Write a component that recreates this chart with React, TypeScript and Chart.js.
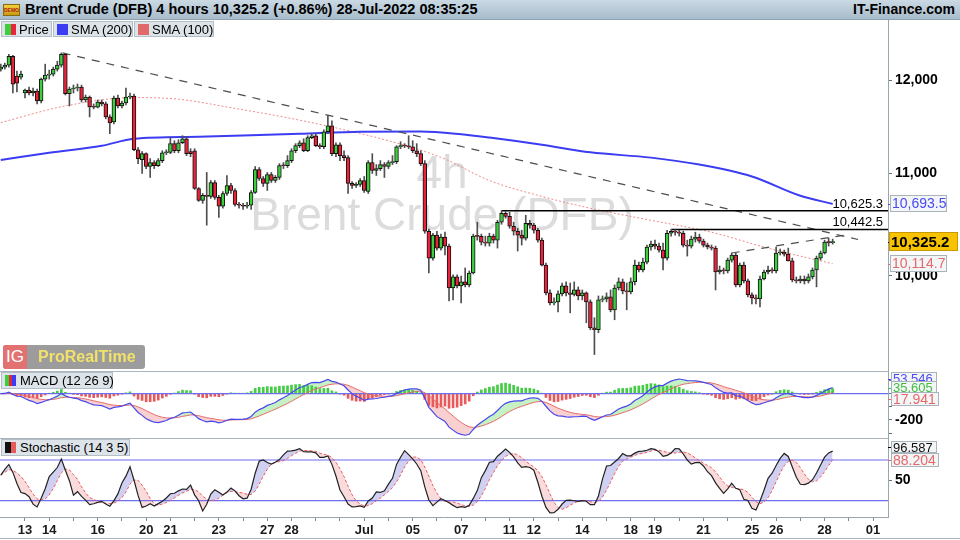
import React, { useEffect, useRef } from "react";
import { Chart, registerables } from "chart.js";

Chart.register(...registerables);

const FONT = '"Liberation Sans", Arial, Helvetica, sans-serif';

// ---------------- data ----------------
const FIRST_INDEX = -6; // candle index of the first candle (Fri 10 Jun); index 0 = Mon 13 Jun 00:00
const CANDLES_PER_DAY = 6;

const opens = [
  12122, 12145, 12167, 12268, 12044, 12033, 11856, 11889, 11856, 11878,
  11768, 12010, 12055, 12066, 12122, 12167, 12291, 11848, 11900, 11911,
  11922, 11779, 11812, 11703, 11700, 11757, 11736, 11595, 11541, 11801,
  11714, 11746, 11812, 11823, 11246, 11143, 11205, 11072, 11113, 11082,
  11133, 11215, 11218, 11310, 11236, 11320, 11362, 11226, 11236, 10848,
  10729, 10778, 10768, 10909, 10759, 10670, 10798, 10878, 10828, 10689,
  10680, 10670, 10680, 10808, 11041, 10949, 10899, 10990, 10929, 10960,
  11082, 11080, 11133, 11236, 11289, 11320, 11236, 11373, 11394, 11289,
  11278, 11436, 11499, 11205, 11299, 11185, 11164, 10899, 10878, 10889,
  10929, 10818, 11113, 11031, 11051, 11092, 11072, 11113, 11123, 11278,
  11289, 11285, 11278, 11236, 11205, 11102, 10425, 10168, 10387, 10263,
  10368, 10282, 9889, 9991, 9908, 9945, 9917, 10028, 10378, 10375,
  10320, 10311, 10378, 10339, 10513, 10601, 10571, 10474, 10425, 10387,
  10358, 10503, 10484, 10435, 10339, 10102, 9844, 9753, 9762, 9835,
  9908, 9844, 9830, 9871, 9816, 9844, 9762, 9529, 9512, 9780,
  9789, 9807, 9690, 9889, 9945, 9862, 9853, 9945, 10102, 10056,
  10130, 10273, 10301, 10282, 10244, 10168, 10406, 10425, 10416, 10406,
  10292, 10282, 10349, 10368, 10330, 10292, 10273, 10263, 10037, 10056,
  10047, 10149, 10197, 9917, 10102, 9954, 9826, 9798, 9789, 9972,
  10037, 10056, 10047, 10216, 10225, 10206, 10142, 9963, 9954, 9972,
  9954, 9991, 10056, 10168, 10216, 10320, 10315,
];

const highs = [
  12178, 12190, 12291, 12280, 12100, 12100, 11900, 11922, 11911, 11900,
  12021, 12178, 12111, 12145, 12212, 12306, 12302, 11922, 11944, 11955,
  11944, 11834, 11823, 11736, 11779, 11779, 11757, 11617, 11823, 11834,
  11768, 11911, 11856, 11845, 11268, 11226, 11215, 11154, 11133, 11154,
  11236, 11246, 11373, 11341, 11352, 11394, 11383, 11257, 11257, 10858,
  10798, 11011, 10929, 10929, 10778, 10818, 10980, 10899, 10848, 10709,
  10699, 10709, 10828, 11072, 11062, 10970, 11011, 11011, 10980, 11102,
  11113, 11185, 11257, 11310, 11341, 11362, 11394, 11415, 11415, 11310,
  11457, 11606, 11552, 11320, 11320, 11236, 11185, 10919, 10909, 10949,
  10970, 11133, 11205, 11092, 11133, 11113, 11133, 11185, 11289, 11331,
  11310, 11394, 11341, 11310, 11236, 11133, 10445, 10406, 10425, 10397,
  10416, 10301, 10010, 10010, 10000, 10075, 10047, 10397, 10513, 10397,
  10378, 10406, 10397, 10532, 10625.3, 10620, 10610, 10513, 10454, 10435,
  10581, 10532, 10503, 10454, 10358, 10121, 9871, 9798, 9862, 9935,
  9945, 9935, 9945, 9899, 9871, 9853, 9780, 9619, 9816, 9816,
  9844, 9871, 9917, 9982, 9972, 9935, 9982, 10149, 10130, 10168,
  10292, 10330, 10339, 10311, 10311, 10435, 10442.5, 10440, 10435, 10425,
  10339, 10378, 10416, 10397, 10349, 10311, 10292, 10282, 10093, 10075,
  10168, 10216, 10216, 10121, 10130, 9972, 9844, 9826, 10000, 10056,
  10093, 10075, 10273, 10254, 10244, 10263, 10168, 9991, 10000, 10000,
  10019, 10075, 10187, 10235, 10339, 10358, 10349,
];

const lows = [
  12100, 12122, 12145, 11856, 11867, 12010, 11801, 11834, 11823, 11736,
  11746, 11988, 12010, 12044, 12100, 12145, 11834, 11714, 11856, 11878,
  11757, 11757, 11595, 11682, 11692, 11714, 11574, 11415, 11520, 11692,
  11692, 11725, 11790, 11236, 11102, 11000, 11051, 10960, 11051, 11072,
  11113, 11195, 11205, 11215, 11215, 11310, 11185, 11174, 10838, 10719,
  10699, 10484, 10749, 10739, 10561, 10650, 10778, 10798, 10670, 10650,
  10640, 10650, 10640, 10798, 10929, 10868, 10828, 10909, 10909, 10939,
  11051, 11062, 11113, 11215, 11268, 11226, 11226, 11362, 11278, 11257,
  11257, 11415, 11185, 11174, 11133, 11133, 10798, 10848, 10858, 10868,
  10808, 10798, 11000, 10980, 11031, 10960, 11051, 11092, 11102, 11257,
  11268, 11257, 11215, 11174, 11082, 10406, 10028, 10149, 10244, 10244,
  10197, 9771, 9780, 9889, 9753, 9899, 9899, 10019, 10339, 10292,
  10282, 10282, 10311, 10263, 10493, 10552, 10454, 10387, 10235, 10292,
  10339, 10454, 10406, 10320, 10093, 9826, 9735, 9735, 9672, 9816,
  9816, 9663, 9816, 9780, 9780, 9574, 9512, 9295, 9486, 9762,
  9762, 9672, 9601, 9871, 9835, 9690, 9835, 9917, 10037, 10037,
  10112, 10244, 10254, 10225, 10056, 10149, 10378, 10387, 10378, 10273,
  10187, 10263, 10320, 10311, 10273, 10254, 10244, 9871, 10019, 10019,
  10028, 10130, 9899, 9899, 9935, 9807, 9744, 9744, 9717, 9963,
  10019, 10028, 10028, 10197, 10187, 10140, 9945, 9935, 9935, 9926,
  9935, 9972, 9899, 10149, 10206, 10282, 10301,
];

const closes = [
  12145, 12167, 12268, 11955, 11966, 12066, 11889, 11856, 11878, 11768,
  12010, 12055, 12066, 12122, 12167, 12291, 11848, 11900, 11911, 11922,
  11779, 11812, 11703, 11700, 11757, 11736, 11595, 11531, 11801, 11714,
  11746, 11812, 11823, 11246, 11154, 11205, 11072, 11113, 11082, 11133,
  11215, 11218, 11310, 11236, 11320, 11362, 11205, 11205, 10848, 10729,
  10778, 10768, 10909, 10759, 10670, 10798, 10878, 10828, 10689, 10680,
  10670, 10680, 10808, 11041, 10949, 10899, 10990, 10929, 10960, 11082,
  11080, 11133, 11236, 11289, 11320, 11236, 11373, 11394, 11289, 11278,
  11436, 11499, 11205, 11299, 11185, 11164, 10899, 10878, 10889, 10929,
  10828, 11113, 11031, 11051, 11092, 11072, 11113, 11123, 11278, 11289,
  11285, 11278, 11236, 11205, 11102, 10425, 10168, 10387, 10263, 10368,
  10282, 9889, 9991, 9908, 9945, 9917, 10028, 10378, 10375, 10320,
  10311, 10378, 10339, 10513, 10601, 10571, 10474, 10425, 10387, 10358,
  10503, 10484, 10435, 10339, 10102, 9844, 9753, 9762, 9835, 9908,
  9844, 9830, 9871, 9816, 9844, 9762, 9529, 9512, 9780, 9789,
  9807, 9690, 9889, 9945, 9862, 9853, 9945, 10102, 10056, 10130,
  10273, 10301, 10282, 10244, 10168, 10406, 10425, 10416, 10406, 10292,
  10282, 10349, 10368, 10330, 10292, 10273, 10263, 10037, 10056, 10047,
  10149, 10197, 9917, 10102, 9954, 9826, 9798, 9789, 9972, 10037,
  10056, 10047, 10216, 10225, 10206, 10142, 9963, 9954, 9972, 9954,
  9991, 10056, 10168, 10216, 10320, 10315, 10325.2,
];

// moving averages (candle index, value)
const sma200Index = [-6, 6, 19, 27, 43, 56, 68, 83, 98, 108, 115, 128, 140, 155, 167, 180, 192, 200];
const sma200Values = [11140, 11215, 11288, 11362, 11383, 11398, 11414, 11436, 11439, 11410, 11375, 11299, 11219, 11164, 11092, 10970, 10775, 10693.5];
const sma100Index = [-6, 10, 27, 38, 51, 68, 90, 103, 115, 128, 140, 155, 170, 184, 200];
const sma100Values = [11534, 11714, 11805, 11788, 11695, 11560, 11341, 11167, 10929, 10768, 10650, 10532, 10415, 10262, 10114.7];

// drawn trend lines
const downTrendIndex = [9.3, 206.3];
const downTrendValues = [12306, 10345];
const riseTrendIndex = [175, 203];
const riseTrendValues = [10216, 10388];
const levelValues = [10625.3, 10442.5];
const levelStartIndex = [118, 160];

// axes
const dayNumbers = [0, 1, 2, 3, 4, 5, 6, 7, 8, 9, 10, 11, 12, 13, 14, 15, 16, 17, 18, 19, 20, 21, 22, 23, 24, 25, 26, 27, 28, 29, 30, 31, 32, 33, 34, 35];
const dayLabels = ["13", "14", "", "16", "", "20", "21", "", "23", "", "27", "28", "", "", "Jul", "", "05", "", "07", "", "11", "12", "", "14", "", "18", "19", "", "21", "", "25", "26", "", "28", "", "01"];
const priceTicks = [10000, 11000, 12000];
const macdTicks = [-300, -200, -100, 0, 100];
const macdLabelled = [-200];
const stochTicks = [50];
const stochBands = [80, 20];

// last values shown in the axis boxes
const lastPrice = 10325.2;
const sma200Last = 10693.5;
const sma100Last = 10114.7;
const macdLast = 53.546;
const histLast = 35.605;
const signalLast = 17.941;
const stochKLast = 96.587;
const stochDLast = 88.204;

const headerText = "Brent Crude (DFB) 4 hours 10,325.2 (+0.86%) 28-Jul-2022 08:35:25";

// ---------------- layout constants ----------------
const X_MIN = -6.19;
const X_MAX = 213.7;
const AXIS_W = 72;
const GREEN = "#3dcd3d";
const RED = "#e8233a";
const BORDER = "#9aa6ae";

const fmt = (v: number, d: number) =>
  v.toLocaleString("en-US", { minimumFractionDigits: d, maximumFractionDigits: d });

const pts = (xs: number[], ys: number[]) => xs.map((x, k) => ({ x, y: ys[k] }));

function ema(src: number[], n: number) {
  const k = 2 / (n + 1);
  const out: number[] = [];
  let e = src[0];
  for (const v of src) {
    e = e + k * (v - e);
    out.push(e);
  }
  return out;
}
function smaOf(a: number[], n: number) {
  return a.map((_, k) => {
    const s = Math.max(0, k - n + 1);
    const w = a.slice(s, k + 1);
    return w.reduce((p, q) => p + q, 0) / w.length;
  });
}

const candleIndex = closes.map((_, k) => FIRST_INDEX + k);

function xAxis(display: boolean): any {
  return {
    type: "linear",
    min: X_MIN,
    max: X_MAX,
    bounds: "data",
    offset: false,
    display,
    afterBuildTicks: (s: any) => {
      s.ticks = dayNumbers.map((d) => ({ value: d * CANDLES_PER_DAY }));
    },
    afterFit: (s: any) => {
      s.height = display ? 23 : 0;
      s.paddingLeft = 0;
      s.paddingRight = 0;
    },
    ticks: {
      autoSkip: false,
      maxRotation: 0,
      padding: 2,
      color: "#1a1a1a",
      font: { family: FONT, size: 13, weight: "bold" },
      callback: (v: number) => {
        const d = Math.round(v / CANDLES_PER_DAY);
        const k = dayNumbers.indexOf(d);
        return k >= 0 ? dayLabels[k] : "";
      },
    },
    grid: { drawOnChartArea: false, drawTicks: true, tickLength: 4, color: "#7d8990", offset: false },
    border: { display: true, color: BORDER },
  };
}

function yAxis(type: string, min: number, max: number, ticks: number[], label: (v: number) => string): any {
  return {
    type,
    position: "right",
    min,
    max,
    bounds: "data",
    afterFit: (s: any) => {
      s.width = AXIS_W;
      s.paddingTop = 0;
      s.paddingBottom = 0;
    },
    afterBuildTicks: (s: any) => {
      s.ticks = ticks.map((v) => ({ value: v }));
    },
    ticks: {
      autoSkip: false,
      color: "#000",
      padding: 3,
      font: { family: FONT, size: 14, weight: "bold" },
      callback: (v: number) => label(v),
    },
    grid: { drawOnChartArea: false, drawTicks: true, tickLength: 4, color: "#66727a" },
    border: { display: true, color: BORDER },
  };
}

function baseOptions(scales: any): any {
  return {
    animation: false,
    responsive: true,
    maintainAspectRatio: false,
    events: [],
    layout: { padding: 0, autoPadding: false },
    plugins: {
      legend: { display: false },
      tooltip: { enabled: false },
      filler: { propagate: false, drawTime: "beforeDatasetsDraw" },
    },
    scales,
  };
}

function valueBox(ctx: any, x: number, yc: number, w: number, h: number, bg: string, border: string, text: string, color: string, font: string) {
  const top = Math.round(yc - h / 2);
  ctx.fillStyle = bg;
  ctx.fillRect(x, top, w, h);
  ctx.strokeStyle = border;
  ctx.lineWidth = 1;
  ctx.strokeRect(x + 0.5, top + 0.5, w - 1, h - 1);
  ctx.fillStyle = color;
  ctx.font = font;
  ctx.textAlign = "left";
  ctx.textBaseline = "middle";
  ctx.fillText(text, x + 2, top + h / 2 + 1);
}

function buildMain(canvas: HTMLCanvasElement) {
  const wick = candleIndex.map((x, k) => ({ x, y: [lows[k], highs[k]] }));
  const body = candleIndex.map((x, k) => ({ x, y: [opens[k], closes[k]] }));
  const bodyColor = closes.map((c, k) => (c >= opens[k] ? GREEN : RED));

  const decor = {
    id: "mainDecor",
    beforeDatasetsDraw(chart: any) {
      const ctx = chart.ctx;
      ctx.save();
      ctx.fillStyle = "#dcdcdc";
      ctx.textAlign = "center";
      ctx.textBaseline = "alphabetic";
      ctx.font = `46px ${FONT}`;
      ctx.fillText("4h", 442, 168);
      ctx.fillText("Brent Crude (DFB)", 442, 210);
      ctx.restore();
    },
    afterDraw(chart: any) {
      const ctx = chart.ctx;
      const y = chart.scales.y;
      ctx.save();
      ctx.fillStyle = "#000";
      ctx.font = `13px ${FONT}`;
      ctx.textAlign = "right";
      ctx.textBaseline = "alphabetic";
      levelValues.forEach((v) => {
        ctx.fillText(fmt(v, 1), 883, y.getPixelForValue(v) - 3);
      });
      const ax = chart.chartArea.right;
      const y200 = y.getPixelForValue(sma200Last);
      ctx.fillStyle = "#4a4af5";
      ctx.fillRect(ax, Math.round(y200), 3, 1);
      valueBox(ctx, ax + 2, y200, 57, 17, "#f3f5f7", "#a9b3ba", fmt(sma200Last, 1), "#4a4af5", `14px ${FONT}`);
      const yp = y.getPixelForValue(lastPrice);
      ctx.fillStyle = "#000";
      ctx.fillRect(ax, Math.round(yp), 3, 1);
      valueBox(ctx, ax + 1, yp, 69, 19, "#f7c300", "#c99a00", fmt(lastPrice, 1), "#000", `bold 15px ${FONT}`);
      const y100 = y.getPixelForValue(sma100Last);
      ctx.fillStyle = "#e46a6a";
      ctx.fillRect(ax, Math.round(y100), 3, 1);
      valueBox(ctx, ax + 2, y100, 57, 17, "#f3f5f7", "#a9b3ba", fmt(sma100Last, 1), "#e46a6a", `14px ${FONT}`);
      ctx.restore();
    },
  };

  const datasets: any[] = [
    {
      type: "line",
      data: pts(sma100Index, sma100Values),
      borderColor: "#f08a8a",
      borderWidth: 1,
      borderDash: [2, 2],
      pointRadius: 0,
      cubicInterpolationMode: "monotone",
      order: 7,
    },
    {
      type: "line",
      data: pts(sma200Index, sma200Values),
      borderColor: "#3c3cf2",
      borderWidth: 2,
      pointRadius: 0,
      cubicInterpolationMode: "monotone",
      order: 6,
    },
    {
      type: "line",
      data: pts(downTrendIndex, downTrendValues),
      borderColor: "#4d4d4d",
      borderWidth: 1.2,
      borderDash: [8, 7],
      pointRadius: 0,
      order: 5,
    },
    {
      type: "line",
      data: pts(riseTrendIndex, riseTrendValues),
      borderColor: "#4d4d4d",
      borderWidth: 1.2,
      borderDash: [8, 7],
      pointRadius: 0,
      order: 5,
    },
    ...levelValues.map((v, k) => ({
      type: "line",
      data: [
        { x: levelStartIndex[k], y: v },
        { x: X_MAX, y: v },
      ],
      borderColor: "#000",
      borderWidth: 1.6,
      pointRadius: 0,
      order: 4,
    })),
    {
      type: "bar",
      data: wick,
      backgroundColor: "#4f4f4f",
      barThickness: 1,
      grouped: false,
      order: 2,
    },
    {
      type: "bar",
      data: body,
      backgroundColor: bodyColor,
      borderColor: "#111",
      borderWidth: 1,
      borderSkipped: false,
      barThickness: 3.8,
      minBarLength: 1,
      grouped: false,
      order: 1,
    },
  ];

  return new Chart(canvas, {
    type: "bar",
    data: { datasets },
    options: baseOptions({
      x: xAxis(false),
      y: yAxis("logarithmic", 9154, 12689, priceTicks, (v) => fmt(v, 0)),
    }),
    plugins: [decor],
  } as any);
}

function buildMacd(canvas: HTMLCanvasElement) {
  const e12 = ema(closes, 12);
  const e26 = ema(closes, 26);
  const macd = e12.map((v, k) => v - e26[k]);
  const signal = ema(macd, 9);
  const hist = macd.map((v, k) => v - signal[k]);

  const decor = {
    id: "macdDecor",
    afterDraw(chart: any) {
      const ctx = chart.ctx;
      const y = chart.scales.y;
      const ax = chart.chartArea.right;
      ctx.save();
      const yb = y.getPixelForValue(macdLast) - 8;
      const yg = y.getPixelForValue(histLast) - 1.5;
      const yr = y.getPixelForValue(signalLast) + 8;
      ctx.fillStyle = "#4a4af5";
      ctx.fillRect(ax, Math.round(yb), 3, 1);
      valueBox(ctx, ax + 3, yb, 46, 13, "#f3f5f7", "#a9b3ba", fmt(macdLast, 3).replace(/,/g, ""), "#4a4af5", `13px ${FONT}`);
      ctx.fillStyle = "#3fbf3f";
      ctx.fillRect(ax, Math.round(yg), 3, 1);
      valueBox(ctx, ax + 3, yg, 46, 13, "#f3f5f7", "#a9b3ba", fmt(histLast, 3), "#3fbf3f", `13px ${FONT}`);
      ctx.fillStyle = "#e46a6a";
      ctx.fillRect(ax, Math.round(yr), 3, 1);
      valueBox(ctx, ax + 3, yr, 48, 14, "#f3f5f7", "#a9b3ba", fmt(signalLast, 3), "#e46a6a", `14px ${FONT}`);
      ctx.restore();
    },
  };

  const datasets: any[] = [
    {
      type: "bar",
      data: candleIndex.map((x, k) => ({ x, y: hist[k] })),
      backgroundColor: hist.map((h) => (h >= 0 ? "#45cc45" : "#e85a5a")),
      barThickness: 2,
      grouped: false,
      order: 3,
    },
    {
      type: "line",
      data: candleIndex.map((x, k) => ({ x, y: macd[k] })),
      borderColor: "#4848ee",
      borderWidth: 1.2,
      pointRadius: 0,
      fill: { target: 2, above: "rgba(150,230,150,0.55)", below: "rgba(242,150,150,0.45)" },
      order: 1,
    },
    {
      type: "line",
      data: candleIndex.map((x, k) => ({ x, y: signal[k] })),
      borderColor: "#e66a6a",
      borderWidth: 1,
      pointRadius: 0,
      order: 1,
    },
    {
      type: "line",
      data: [
        { x: X_MIN, y: 0 },
        { x: X_MAX, y: 0 },
      ],
      borderColor: "#6e6ef0",
      borderWidth: 1.2,
      pointRadius: 0,
      order: 2,
    },
  ];

  return new Chart(canvas, {
    type: "bar",
    data: { datasets },
    options: baseOptions({
      x: xAxis(false),
      y: yAxis("linear", -337, 172.6, macdTicks, (v) => (macdLabelled.includes(v) ? String(v) : "")),
    }),
    plugins: [decor],
  } as any);
}

function buildStoch(canvas: HTMLCanvasElement) {
  const raw = closes.map((c, k) => {
    const s = Math.max(0, k - 13);
    const hh = Math.max(...highs.slice(s, k + 1));
    const ll = Math.min(...lows.slice(s, k + 1));
    return hh > ll ? (100 * (c - ll)) / (hh - ll) : 50;
  });
  const kLine = smaOf(raw, 3);
  const dLine = smaOf(kLine, 5);

  const decor = {
    id: "stochDecor",
    afterDraw(chart: any) {
      const ctx = chart.ctx;
      const y = chart.scales.y;
      const ax = chart.chartArea.right;
      ctx.save();
      const yk = y.getPixelForValue(stochKLast) - 1.5;
      const yd = y.getPixelForValue(stochDLast) + 5.5;
      ctx.fillStyle = "#000";
      ctx.fillRect(ax, Math.round(yk), 3, 1);
      valueBox(ctx, ax + 3, yk, 46, 12, "#f3f5f7", "#a9b3ba", fmt(stochKLast, 3), "#111", `13px ${FONT}`);
      ctx.fillStyle = "#e46a6a";
      ctx.fillRect(ax, Math.round(yd), 3, 1);
      valueBox(ctx, ax + 3, yd, 48, 14, "#f3f5f7", "#a9b3ba", fmt(stochDLast, 3), "#e46a6a", `14px ${FONT}`);
      ctx.restore();
    },
  };

  const datasets: any[] = [
    {
      type: "line",
      data: candleIndex.map((x, k) => ({ x, y: kLine[k] })),
      borderColor: "#222",
      borderWidth: 1.2,
      pointRadius: 0,
      fill: { target: 1, above: "rgba(170,172,232,0.55)", below: "rgba(244,175,175,0.45)" },
      order: 1,
    },
    {
      type: "line",
      data: candleIndex.map((x, k) => ({ x, y: dLine[k] })),
      borderColor: "#ee5a5a",
      borderWidth: 1,
      borderDash: [3, 2],
      pointRadius: 0,
      order: 1,
    },
    ...stochBands.map((b) => ({
      type: "line",
      data: [
        { x: X_MIN, y: b },
        { x: X_MAX, y: b },
      ],
      borderColor: "#6e6ef0",
      borderWidth: 1.2,
      pointRadius: 0,
      order: 2,
    })),
  ];

  return new Chart(canvas, {
    type: "line",
    data: { datasets },
    options: baseOptions({
      x: xAxis(true),
      y: yAxis("linear", -4, 112.4, stochTicks, (v) => String(v)),
    }),
    plugins: [decor],
  } as any);
}

const legendBox: React.CSSProperties = {
  position: "absolute",
  height: 16,
  top: 0,
  background: "#dde4e9",
  border: "1px solid #b3bec6",
  boxSizing: "border-box",
  fontFamily: FONT,
  fontSize: 13,
  color: "#000",
  lineHeight: "15px",
  whiteSpace: "nowrap",
};

function Icon({ colors }: { colors: string[] }) {
  return (
    <span style={{ position: "absolute", left: 3, top: 2, width: 11, height: 11, display: "flex" }}>
      {colors.map((c, i) => (
        <span key={i} style={{ flex: 1, background: c }} />
      ))}
    </span>
  );
}

export default function App() {
  const mainRef = useRef<HTMLCanvasElement | null>(null);
  const macdRef = useRef<HTMLCanvasElement | null>(null);
  const stochRef = useRef<HTMLCanvasElement | null>(null);

  useEffect(() => {
    const charts = [
      buildMain(mainRef.current as HTMLCanvasElement),
      buildMacd(macdRef.current as HTMLCanvasElement),
      buildStoch(stochRef.current as HTMLCanvasElement),
    ];
    return () => charts.forEach((c) => c.destroy());
  }, []);

  return (
    <div style={{ position: "relative", width: 960, height: 540, overflow: "hidden", background: "#fff", fontFamily: FONT }}>
      <style>{"body{margin:0}"}</style>
      <div
        style={{
          position: "absolute",
          left: 0,
          top: 0,
          width: 960,
          height: 20,
          background: "linear-gradient(#cad9e4, #a8bccb)",
          borderBottom: "1px solid #8ea2b1",
          boxSizing: "border-box",
        }}
      >
        <div
          style={{
            position: "absolute",
            left: 3,
            top: 4,
            width: 17,
            height: 12,
            background: "linear-gradient(#f2d23a, #c99a12)",
            border: "1px solid #8a6a10",
            boxSizing: "border-box",
            fontSize: 5,
            fontWeight: "bold",
            color: "#b0221a",
            lineHeight: "10px",
            textAlign: "center",
            overflow: "hidden",
          }}
        >
          DEMO
        </div>
        <span style={{ position: "absolute", left: 25, top: 1, fontSize: 14.5, fontWeight: "bold", color: "#000", whiteSpace: "nowrap" }}>
          {headerText}
        </span>
        <span style={{ position: "absolute", right: 5, top: 1, fontSize: 14, fontWeight: "bold", color: "#000" }}>IT-Finance.com</span>
      </div>

      <div style={{ position: "absolute", left: 0, top: 20, width: 960, height: 351 }}>
        <canvas ref={mainRef} />
      </div>
      <div style={{ position: "absolute", left: 0, top: 371, width: 960, height: 67 }}>
        <canvas ref={macdRef} />
      </div>
      <div style={{ position: "absolute", left: 0, top: 438, width: 960, height: 102 }}>
        <canvas ref={stochRef} />
      </div>

      <div style={{ position: "absolute", left: 0, top: 371, width: 888, height: 1, background: "#aab4ba" }} />
      <div style={{ position: "absolute", left: 0, top: 438, width: 888, height: 1, background: "#aab4ba" }} />
      <div style={{ position: "absolute", left: 0, top: 538, width: 960, height: 1, background: "#aab4ba" }} />

      <div style={{ position: "absolute", left: 0, top: 21, width: 260, height: 16 }}>
        <div style={{ ...legendBox, left: 1, width: 51, paddingLeft: 17 }}>
          <Icon colors={[GREEN, RED]} />
          Price
        </div>
        <div style={{ ...legendBox, left: 53, width: 80, paddingLeft: 17 }}>
          <Icon colors={["#3c3cf2"]} />
          SMA (200)
        </div>
        <div style={{ ...legendBox, left: 134, width: 80, paddingLeft: 17 }}>
          <Icon colors={["#e06a6a"]} />
          SMA (100)
        </div>
      </div>

      <div
        style={{
          position: "absolute",
          left: 3,
          top: 345,
          width: 142,
          height: 24,
          background: "rgba(128,128,128,0.78)",
          borderRadius: 3,
          overflow: "hidden",
        }}
      >
        <div
          style={{
            position: "absolute",
            left: 0,
            top: 0,
            width: 24,
            height: 24,
            background: "#e27272",
            color: "#fff",
            fontSize: 17,
            lineHeight: "24px",
            textAlign: "center",
          }}
        >
          IG
        </div>
        <span style={{ position: "absolute", left: 35, top: 3, fontSize: 16, fontWeight: "bold", color: "#f2e26a", whiteSpace: "nowrap" }}>
          ProRealTime
        </span>
      </div>

      <div style={{ ...legendBox, left: 1, top: 372, width: 112, height: 17, paddingLeft: 18 }}>
        <Icon colors={[GREEN, RED, "#3c3cf2"]} />
        MACD (12 26 9)
      </div>
      <div style={{ ...legendBox, left: 1, top: 439, width: 129, height: 17, paddingLeft: 18 }}>
        <Icon colors={["#111", "#e85a5a"]} />
        Stochastic (14 3 5)
      </div>
    </div>
  );
}
